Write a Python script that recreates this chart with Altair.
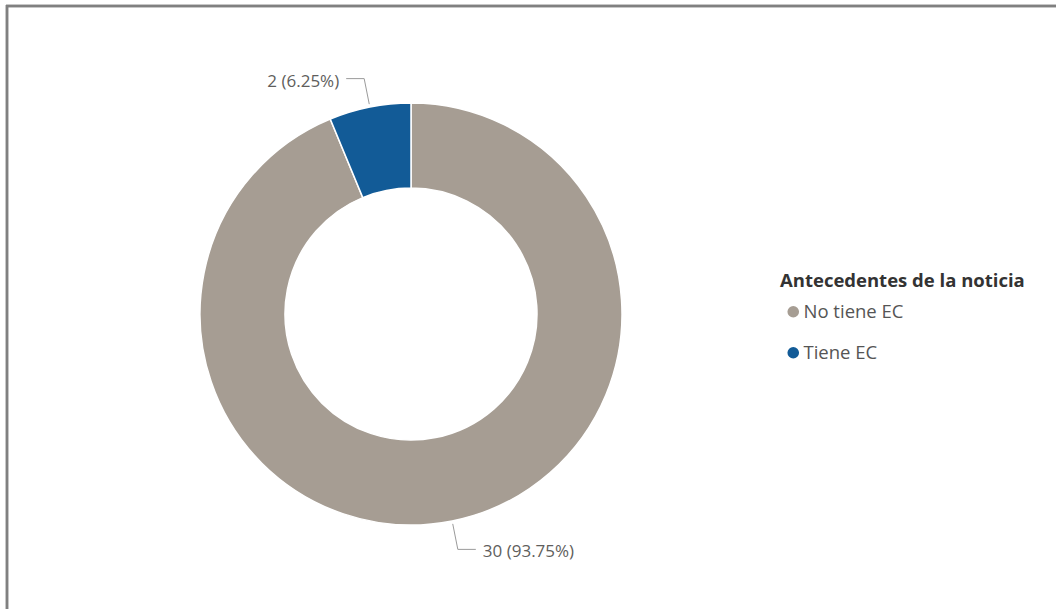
import altair as alt
import pandas as pd

# ---- data ----
categories = ["No tiene EC", "Tiene EC"]
counts = [30, 2]
colors = ["#A69D93", "#125B97"]
legend_title = "Antecedentes de la noticia"

# ---- layout (style, not data) ----
PAD_L, PAD_T = 7, 6
W, H = 1056 - PAD_L, 609 - PAD_T
CX, CY = 404, 308
R_OUT, R_IN = 211, 126
R_START, R_ELBOW = 214, 240
HLEN, GAP = 18, 7
FONT = "Segoe UI, Open Sans"

df = pd.DataFrame({"cat": categories, "count": counts, "ord": list(range(len(categories)))})

xs = alt.Scale(domain=[0, W], range=[0, W])
ys = alt.Scale(domain=[0, H], range=[0, H])

base = alt.Chart(df)

arc = base.mark_arc(innerRadius=R_IN, outerRadius=R_OUT, stroke="white", strokeWidth=1.5).encode(
    theta=alt.Theta("count:Q", stack=True),
    color=alt.Color(
        "cat:N",
        sort=categories,
        scale=alt.Scale(domain=categories, range=colors),
        legend=alt.Legend(
            title=legend_title,
            orient="none",
            legendX=773,
            legendY=266,
            padding=0,
            symbolType="circle",
            symbolSize=135,
            symbolOffset=4,
            symbolStrokeWidth=0,
            labelOffset=1,
            titleFont=FONT,
            titleFontSize=18.5,
            titleFontWeight="bold",
            titleColor="#333333",
            titlePadding=12,
            titleLimit=400,
            labelLimit=300,
            labelFont=FONT,
            labelFontSize=18.5,
            labelColor="#555555",
            rowPadding=22,
        ),
    ),
    order=alt.Order("ord:Q"),
    x=alt.value(CX),
    y=alt.value(CY),
)

calc = (
    base.transform_joinaggregate(total="sum(count)")
    .transform_window(cum="sum(count)", sort=[alt.SortField("ord")], frame=[None, 0])
    .transform_calculate(
        mid="(datum.cum - datum.count/2) / datum.total * 2 * PI",
        side="sin(datum.mid) >= 0 ? 1 : -1",
        ox=f"{CX} + {R_START} * sin(datum.mid)",
        oy=f"{CY} - {R_START} * cos(datum.mid)",
        ex=f"{CX} + {R_ELBOW} * sin(datum.mid)",
        ey=f"{CY} - {R_ELBOW} * cos(datum.mid)",
    )
    .transform_calculate(
        hx=f"datum.ex + datum.side * {HLEN}",
    )
    .transform_calculate(
        tx=f"datum.hx + datum.side * {GAP}",
        label="datum.count + ' (' + format(datum.count / datum.total, '.2%') + ')'",
    )
)

lead1 = calc.mark_rule(color="#9A9A9A", strokeWidth=1).encode(
    x=alt.X("ox:Q", scale=xs, axis=None),
    y=alt.Y("oy:Q", scale=ys, axis=None),
    x2="ex:Q",
    y2="ey:Q",
)
lead2 = calc.mark_rule(color="#9A9A9A", strokeWidth=1).encode(
    x=alt.X("ex:Q", scale=xs, axis=None),
    y=alt.Y("ey:Q", scale=ys, axis=None),
    x2="hx:Q",
)

txt_right = calc.transform_filter("datum.side > 0").mark_text(
    align="left", baseline="middle", dy=3, font=FONT, fontSize=17, color="#605E5C"
).encode(
    x=alt.X("tx:Q", scale=xs, axis=None),
    y=alt.Y("ey:Q", scale=ys, axis=None),
    text="label:N",
)
txt_left = calc.transform_filter("datum.side < 0").mark_text(
    align="right", baseline="middle", dy=3, font=FONT, fontSize=17, color="#605E5C"
).encode(
    x=alt.X("tx:Q", scale=xs, axis=None),
    y=alt.Y("ey:Q", scale=ys, axis=None),
    text="label:N",
)

# frame (top and left edges only, as in the cropped reference)
frame_top = base.mark_rule(color="#808080", strokeWidth=2.5).encode(
    x=alt.value(-1), x2=alt.value(W), y=alt.value(0)
)
frame_left = base.mark_rule(color="#808080", strokeWidth=2.5).encode(
    x=alt.value(0), y=alt.value(-1), y2=alt.value(H)
)

chart = (
    alt.layer(arc, lead1, lead2, txt_right, txt_left, frame_top, frame_left)
    .properties(
        width=W,
        height=H,
        autosize="none",
        padding={"left": PAD_L, "top": PAD_T, "right": 0, "bottom": 0},
        background="white",
    )
    .configure_view(stroke=None)
)

chart.save("out.html", embed_options={"renderer": "svg", "actions": False})
